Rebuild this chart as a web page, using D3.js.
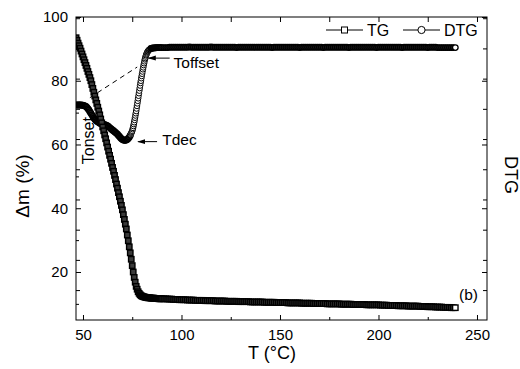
<!DOCTYPE html>
<html>
<head>
<meta charset="utf-8">
<script src="https://cdn.jsdelivr.net/npm/d3@7"></script>
<style>
  body { margin: 0; background: #fff; }
  svg { display: block; }
</style>
</head>
<body>
<div id="chart"></div>
<script>
const WIDTH = 520;
const HEIGHT = 369;
const MARGIN = { top: 17, right: 33, bottom: 49, left: 76 };
const FONT = "'Liberation Sans', Arial, Helvetica, sans-serif";

// axis domains and ticks
const X_DOMAIN = [46.45, 255.08];
const Y_DOMAIN = [4.94, 100];
const DTG_DOMAIN = [-0.99, 9.04];
const xTicks = [50, 100, 150, 200, 250];
const xMinorTicks = [75, 125, 175, 225];
const yTicks = [20, 40, 60, 80, 100];
const yMinorTicks = [10, 30, 50, 70, 90];
const dtgTicks = [0, 1, 2, 3, 4, 5, 6, 7, 8, 9];

// sampling temperatures (°C)
const headTemps = d3.range(46.5, 90.01, 0.5);
const tailTemps = d3.range(91, 239.01, 1);
const dtgHeadTemps = d3.range(46.5, 74.01, 0.5);
const dtgRiseTemps = d3.range(74.2, 84.01, 0.2);
const dtgPostTemps = d3.range(84.5, 90.01, 0.5);

// TG, mass (%)
const tgHead = [
  93.5, 92.7, 91.8, 91.0, 90.2, 89.3, 88.4, 87.5, 86.6, 85.7,
  84.8, 83.9, 82.9, 82.0, 81.0, 80.0, 78.8, 77.6, 76.4, 75.2,
  74.0, 72.9, 71.7, 70.5, 69.3, 68.0, 66.8, 65.5, 64.3, 63.0,
  61.8, 60.5, 59.2, 57.9, 56.6, 55.4, 54.1, 52.8, 51.6, 50.3,
  49.0, 47.6, 46.3, 44.9, 43.6, 42.2, 40.9, 39.5, 38.0, 36.5,
  35.0, 33.5, 31.6, 29.8, 27.9, 26.0, 24.0, 22.0, 20.0, 18.3,
  16.8, 15.5, 14.6, 13.8, 13.3, 12.9, 12.6, 12.4, 12.3, 12.2,
  12.1, 12.0, 12.0, 11.9, 11.9, 11.9, 11.8, 11.8, 11.8, 11.8,
  11.7, 11.7, 11.7, 11.7, 11.6, 11.6, 11.6, 11.6
];
const tgTail = [
  11.6, 11.6, 11.5, 11.5, 11.5, 11.4, 11.4, 11.4, 11.3, 11.3,
  11.3, 11.3, 11.2, 11.2, 11.2, 11.2, 11.1, 11.1, 11.1, 11.1,
  11.1, 11.0, 11.0, 11.0, 11.0, 11.0, 10.9, 10.9, 10.9, 10.9,
  10.9, 10.9, 10.8, 10.8, 10.8, 10.8, 10.8, 10.8, 10.7, 10.7,
  10.7, 10.7, 10.7, 10.7, 10.6, 10.6, 10.6, 10.6, 10.6, 10.6,
  10.6, 10.5, 10.5, 10.5, 10.5, 10.5, 10.5, 10.4, 10.4, 10.4,
  10.4, 10.4, 10.4, 10.3, 10.3, 10.3, 10.3, 10.3, 10.3, 10.3,
  10.2, 10.2, 10.2, 10.2, 10.2, 10.2, 10.1, 10.1, 10.1, 10.1,
  10.1, 10.1, 10.1, 10.0, 10.0, 10.0, 10.0, 10.0, 10.0, 10.0,
  9.9, 9.9, 9.9, 9.9, 9.9, 9.9, 9.8, 9.8, 9.8, 9.8,
  9.8, 9.8, 9.8, 9.7, 9.7, 9.7, 9.7, 9.7, 9.7, 9.7,
  9.6, 9.6, 9.6, 9.6, 9.5, 9.5, 9.5, 9.5, 9.5, 9.4,
  9.4, 9.4, 9.4, 9.4, 9.3, 9.3, 9.3, 9.3, 9.3, 9.3,
  9.2, 9.2, 9.2, 9.2, 9.1, 9.1, 9.1, 9.1, 9.0, 9.0,
  9.0, 9.0, 8.9, 8.9, 8.9, 8.9, 8.8, 8.8, 8.8
];

// DTG, drawn against the left axis as in the picture
const dtgHead = [
  72.4, 72.4, 72.4, 72.4, 72.4, 72.4, 72.3, 72.3, 72.2, 72.1,
  71.9, 71.6, 71.2, 70.8, 70.3, 69.8, 69.3, 68.8, 68.3, 67.9,
  67.6, 67.3, 67.1, 66.9, 66.7, 66.6, 66.5, 66.4, 66.3, 66.2,
  66.1, 66.0, 65.8, 65.6, 65.3, 65.0, 64.8, 64.5, 64.3, 64.0,
  63.8, 63.5, 63.2, 62.8, 62.5, 62.1, 61.8, 61.6, 61.4, 61.3,
  61.3, 61.4, 61.6, 61.9, 62.3, 62.8
];
const dtgRise = [
  63.1, 63.4, 63.7, 64.0, 64.3, 64.8, 65.2, 65.8, 66.4, 67.0,
  67.7, 68.4, 69.1, 69.8, 70.5, 71.3, 72.1, 72.9, 73.7, 74.5,
  75.3, 76.1, 76.9, 77.7, 78.5, 79.3, 80.0, 80.8, 81.5, 82.2,
  82.9, 83.6, 84.2, 84.9, 85.5, 86.1, 86.7, 87.1, 87.6, 88.0,
  88.3, 88.6, 88.9, 89.1, 89.3, 89.5, 89.6, 89.7, 89.8, 89.9
];
const dtgPost = [90.1, 90.2, 90.3, 90.3, 90.3, 90.4, 90.4, 90.4, 90.4, 90.4, 90.4, 90.4];
const dtgTail = [
  90.4, 90.4, 90.4, 90.5, 90.5, 90.5, 90.5, 90.5, 90.5, 90.5,
  90.5, 90.5, 90.5, 90.6, 90.5, 90.5, 90.5, 90.5, 90.5, 90.5,
  90.5, 90.5, 90.5, 90.5, 90.6, 90.5, 90.5, 90.5, 90.5, 90.5,
  90.5, 90.5, 90.5, 90.5, 90.5, 90.5, 90.5, 90.4, 90.5, 90.5,
  90.5, 90.5, 90.5, 90.5, 90.5, 90.5, 90.5, 90.5, 90.5, 90.5,
  90.5, 90.5, 90.5, 90.5, 90.5, 90.4, 90.5, 90.5, 90.5, 90.5,
  90.5, 90.5, 90.5, 90.5, 90.5, 90.5, 90.5, 90.5, 90.5, 90.4,
  90.5, 90.5, 90.5, 90.5, 90.5, 90.5, 90.5, 90.5, 90.5, 90.5,
  90.5, 90.4, 90.5, 90.5, 90.5, 90.5, 90.5, 90.5, 90.5, 90.5,
  90.5, 90.5, 90.5, 90.5, 90.4, 90.5, 90.5, 90.5, 90.5, 90.5,
  90.5, 90.5, 90.5, 90.5, 90.5, 90.5, 90.5, 90.5, 90.4, 90.5,
  90.5, 90.5, 90.5, 90.5, 90.5, 90.5, 90.5, 90.5, 90.5, 90.5,
  90.5, 90.4, 90.5, 90.5, 90.5, 90.5, 90.5, 90.5, 90.5, 90.5,
  90.5, 90.5, 90.5, 90.5, 90.4, 90.5, 90.5, 90.5, 90.5, 90.4,
  90.4, 90.4, 90.4, 90.4, 90.4, 90.4, 90.4, 90.4, 90.4
];

// annotations in data units [T, mass]
const onsetLine = [[53.5, 74.7], [77.5, 84.3]];
const labels = [
  { text: "Toffset", at: [96.0, 84.0], arrow: [[94.0, 87.1], [83.4, 87.1]] },
  { text: "Tdec", at: [90.2, 59.9], arrow: [[87.6, 60.9], [78.0, 60.9]] },
  { text: "(b)", at: [240.9, 11.2] }
];
const onsetLabel = { text: "Tonset", at: [55.8, 61.2] };

const pair = (temps, vals, seg) => temps.map((t, i) => ({ t: t, v: vals[i], seg: seg }));
const tgSeries = pair(headTemps, tgHead, "head").concat(pair(tailTemps, tgTail, "tail"));
const dtgSeries = pair(dtgHeadTemps, dtgHead, "head")
  .concat(pair(dtgRiseTemps, dtgRise, "rise"))
  .concat(pair(dtgPostTemps, dtgPost, "post"))
  .concat(pair(tailTemps, dtgTail, "tail"));

const svg = d3.select("#chart").append("svg")
  .attr("width", WIDTH).attr("height", HEIGHT)
  .style("font-family", FONT);

const x = d3.scaleLinear().domain(X_DOMAIN).range([MARGIN.left, WIDTH - MARGIN.right]);
const y = d3.scaleLinear().domain(Y_DOMAIN).range([HEIGHT - MARGIN.bottom, MARGIN.top]);
const yDtg = d3.scaleLinear().domain(DTG_DOMAIN).range([HEIGHT - MARGIN.bottom, MARGIN.top]);

const plotW = WIDTH - MARGIN.left - MARGIN.right;
const plotH = HEIGHT - MARGIN.top - MARGIN.bottom;

const defs = svg.append("defs");
defs.append("clipPath").attr("id", "clip")
  .append("rect")
  .attr("x", MARGIN.left).attr("y", MARGIN.top)
  .attr("width", plotW).attr("height", plotH);
defs.append("marker")
  .attr("id", "head")
  .attr("markerUnits", "userSpaceOnUse")
  .attr("viewBox", "0 0 8 6")
  .attr("refX", 7).attr("refY", 3)
  .attr("markerWidth", 8).attr("markerHeight", 6)
  .attr("orient", "auto")
  .append("path").attr("d", "M0,0.5L8,3L0,5.5Z").attr("fill", "#000");

function cleanAxis(g) {
  g.select(".domain").remove();
  g.attr("font-family", FONT).attr("font-size", 15);
  g.selectAll(".tick line").attr("stroke", "#000");
  g.selectAll(".tick text").attr("fill", "#000");
}

// axes with inward ticks
const bottom = HEIGHT - MARGIN.bottom;
const right = WIDTH - MARGIN.right;

svg.append("g").attr("transform", `translate(0,${bottom})`)
  .call(d3.axisBottom(x).tickValues(xTicks).tickSize(-5).tickPadding(9))
  .call(cleanAxis);
svg.append("g").attr("transform", `translate(0,${bottom})`)
  .call(d3.axisBottom(x).tickValues(xMinorTicks).tickSize(-3).tickFormat(""))
  .call(cleanAxis);
svg.append("g").attr("transform", `translate(0,${MARGIN.top})`)
  .call(d3.axisTop(x).tickValues(xTicks.concat(xMinorTicks)).tickSize(-5).tickFormat(""))
  .call(cleanAxis);

svg.append("g").attr("transform", `translate(${MARGIN.left},0)`)
  .call(d3.axisLeft(y).tickValues(yTicks).tickSize(-5).tickPadding(8))
  .call(cleanAxis);
svg.append("g").attr("transform", `translate(${MARGIN.left},0)`)
  .call(d3.axisLeft(y).tickValues(yMinorTicks).tickSize(-3).tickFormat(""))
  .call(cleanAxis);
svg.append("g").attr("transform", `translate(${MARGIN.left},0)`)
  .call(d3.axisLeft(yDtg).tickValues(dtgTicks).tickSize(-4).tickFormat(""))
  .call(cleanAxis);

svg.append("g").attr("transform", `translate(${right},0)`)
  .call(d3.axisRight(yDtg).tickValues(dtgTicks).tickSize(-4).tickFormat(""))
  .call(cleanAxis);
svg.append("g").attr("transform", `translate(${right},0)`)
  .call(d3.axisRight(y).tickValues(yTicks).tickSize(-5).tickFormat(""))
  .call(cleanAxis);

// data
const plot = svg.append("g").attr("clip-path", "url(#clip)");

plot.append("path")
  .datum(onsetLine)
  .attr("d", d3.line().x(d => x(d[0])).y(d => y(d[1])))
  .attr("fill", "none")
  .attr("stroke", "#000")
  .attr("stroke-width", 1)
  .attr("stroke-dasharray", "5,4");

// dense hollow markers: dark where they pile up, open on the rise and on the last point
const lastDtg = dtgSeries.length - 1;
plot.selectAll(".dtg")
  .data(dtgSeries)
  .join("circle")
  .attr("class", "dtg")
  .attr("cx", d => x(d.t))
  .attr("cy", d => y(d.v))
  .attr("r", 2.8)
  .attr("fill", (d, i) => (d.seg === "rise" || i === lastDtg ? "#fff" : "#222"))
  .attr("stroke", "#000")
  .attr("stroke-width", (d) => (d.seg === "rise" ? 1 : 1.3));

const SQ = 5.4;
const lastTg = tgSeries.length - 1;
plot.selectAll(".tg")
  .data(tgSeries)
  .join("rect")
  .attr("class", "tg")
  .attr("x", d => x(d.t) - SQ / 2)
  .attr("y", d => y(d.v) - SQ / 2)
  .attr("width", SQ)
  .attr("height", SQ)
  .attr("fill", (d, i) => (i === lastTg ? "#fff" : "#3a3a3a"))
  .attr("stroke", "#000")
  .attr("stroke-width", 1.4);

// frame
svg.append("rect")
  .attr("x", MARGIN.left).attr("y", MARGIN.top)
  .attr("width", plotW).attr("height", plotH)
  .attr("fill", "none").attr("stroke", "#000").attr("stroke-width", 1);

// annotations
labels.forEach(l => {
  svg.append("text")
    .attr("x", x(l.at[0])).attr("y", y(l.at[1]))
    .attr("font-size", 15.5)
    .attr("fill", "#000")
    .text(l.text);
  if (l.arrow) {
    svg.append("line")
      .attr("x1", x(l.arrow[0][0])).attr("y1", y(l.arrow[0][1]))
      .attr("x2", x(l.arrow[1][0])).attr("y2", y(l.arrow[1][1]))
      .attr("stroke", "#000").attr("stroke-width", 1)
      .attr("marker-end", "url(#head)");
  }
});

svg.append("text")
  .attr("transform", `translate(${x(onsetLabel.at[0])},${y(onsetLabel.at[1])}) rotate(-90)`)
  .attr("text-anchor", "middle")
  .attr("font-size", 16)
  .attr("fill", "#000")
  .text(onsetLabel.text);

// legend
const legendItems = [
  { label: "TG", shape: "square", x0: 326 },
  { label: "DTG", shape: "circle", x0: 403 }
];
const LEGEND_Y = 30;
legendItems.forEach(item => {
  const g = svg.append("g");
  g.append("line")
    .attr("x1", item.x0).attr("x2", item.x0 + 37)
    .attr("y1", LEGEND_Y).attr("y2", LEGEND_Y)
    .attr("stroke", "#000");
  if (item.shape === "square") {
    g.append("rect")
      .attr("x", item.x0 + 18.5 - 3).attr("y", LEGEND_Y - 3)
      .attr("width", 6).attr("height", 6)
      .attr("fill", "#fff").attr("stroke", "#000");
  } else {
    g.append("circle")
      .attr("cx", item.x0 + 18.5).attr("cy", LEGEND_Y).attr("r", 3.6)
      .attr("fill", "#fff").attr("stroke", "#000");
  }
  g.append("text")
    .attr("x", item.x0 + 41).attr("y", LEGEND_Y + 6)
    .attr("font-size", 16)
    .text(item.label);
});

// axis titles
svg.append("text")
  .attr("x", 272).attr("y", 359)
  .attr("text-anchor", "middle")
  .attr("font-size", 18)
  .text("T (°C)");
svg.append("text")
  .attr("transform", "translate(29,186) rotate(-90)")
  .attr("text-anchor", "middle")
  .attr("font-size", 19)
  .text("Δm (%)");
svg.append("text")
  .attr("transform", "translate(505,175) rotate(90)")
  .attr("text-anchor", "middle")
  .attr("font-size", 18)
  .text("DTG");
</script>
</body>
</html>
